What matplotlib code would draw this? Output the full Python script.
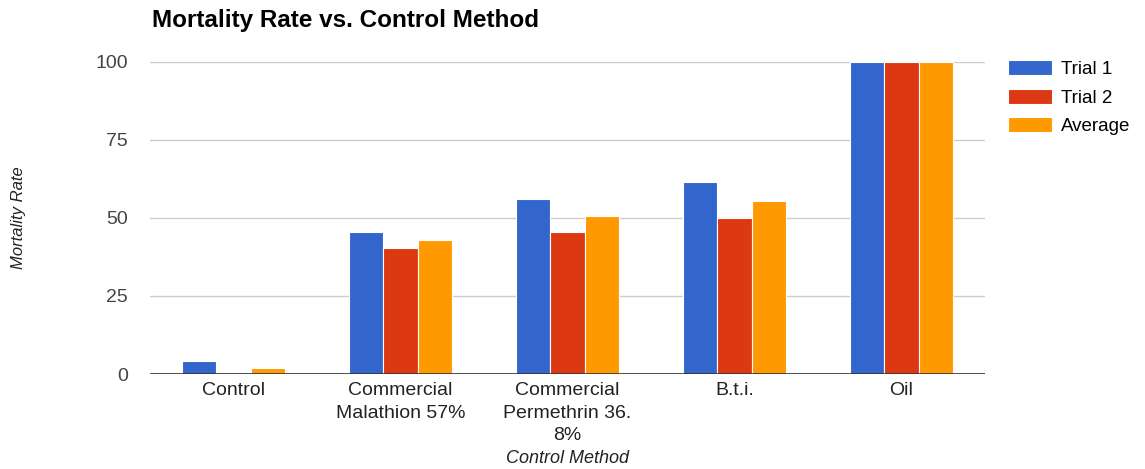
import matplotlib.pyplot as plt
import numpy as np

plt.rcParams['font.family'] = ['Liberation Sans', 'DejaVu Sans']

methods = ["Control", "Commercial\nMalathion 57%", "Commercial\nPermethrin 36.\n8%", "B.t.i.", "Oil"]
trial1 = [4.17, 45.45, 56.1, 61.5, 100]
trial2 = [0, 40.54, 45.45, 50.0, 100]
average = [2.08, 43.0, 50.8, 55.4, 100]

series = [("Trial 1", trial1, "#3366cc"),
          ("Trial 2", trial2, "#dc3912"),
          ("Average", average, "#ff9900")]

W, H = 1145, 469
fig = plt.figure(figsize=(W / 100, H / 100), dpi=100)
ax = fig.add_axes([150 / W, 1 - 374 / H, 835 / W, 312 / H])

x = np.arange(len(methods))
w = 0.205
for i, (name, vals, col) in enumerate(series):
    ax.bar(x + (i - 1) * w, vals, w, color=col, edgecolor="white", linewidth=0.8,
           label=name, zorder=3)

ax.set_xlim(-0.5, len(methods) - 0.5)
ax.set_ylim(0, 100)
ax.set_yticks([0, 25, 50, 75, 100])
ax.grid(axis="y", color="#cccccc", linewidth=1, zorder=0)
ax.axhline(0, color="#333333", linewidth=1.2, zorder=4)
for s in ax.spines.values():
    s.set_visible(False)
ax.tick_params(length=0)
ax.tick_params(axis="y", labelsize=14, labelcolor="#444444", pad=16)
ax.set_xticks(x)
ax.set_xticklabels(methods, fontsize=14, color="#222222", linespacing=1.4)
ax.tick_params(axis="x", pad=6)

# axis titles placed in figure pixels
fig.text(568 / W, 1 - 458 / H, "Control Method", fontsize=13, style="italic",
         color="#222222", ha="center", va="center")
fig.text(19 / W, 1 - 218 / H, "Mortality Rate", fontsize=12, style="italic",
         color="#222222", ha="center", va="center", rotation=90)
fig.text(152 / W, 1 - 21 / H, "Mortality Rate vs. Control Method", fontsize=17.5,
         fontweight="bold", color="#000000", ha="left", va="center")

ax.legend(loc="upper left", bbox_to_anchor=(1.0275, 1.005), frameon=False,
          fontsize=13.5, handlelength=2.35, handleheight=0.85, labelspacing=0.55,
          handletextpad=0.5, borderaxespad=0, borderpad=0)

fig.savefig("out.png", dpi=100)
